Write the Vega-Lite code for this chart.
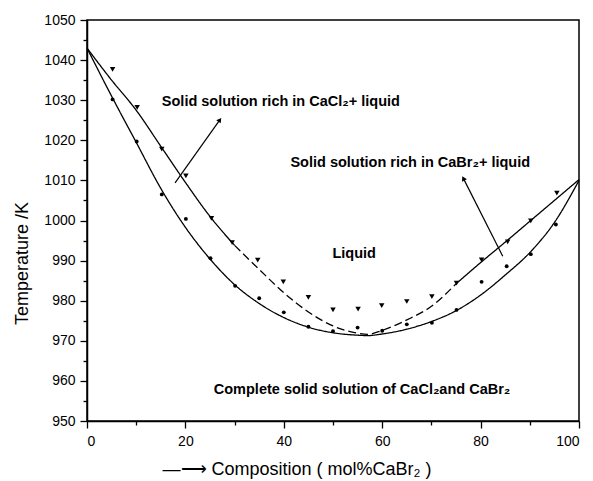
{
  "$schema": "https://vega.github.io/schema/vega-lite/v6.json",
  "width": 492,
  "height": 401,
  "autosize": {"type": "none"},
  "padding": {"left": 87, "top": 20, "right": 14, "bottom": 60},
  "background": "white",
  "config": {
    "view": {"stroke": "black", "strokeWidth": 1.5},
    "font": "Liberation Sans",
    "axis": {
      "labelFont": "Liberation Sans",
      "titleFont": "Liberation Sans",
      "labelColor": "black",
      "titleColor": "black",
      "domainColor": "black",
      "tickColor": "black",
      "grid": false
    }
  },
  "datasets": {
    "curves": [
      {"x": 0, "T": 1043, "segment": "liq1"},
      {"x": 5, "T": 1035, "segment": "liq1"},
      {"x": 10, "T": 1027.5, "segment": "liq1"},
      {"x": 15, "T": 1018.5, "segment": "liq1"},
      {"x": 20, "T": 1009.5, "segment": "liq1"},
      {"x": 25, "T": 1001, "segment": "liq1"},
      {"x": 30, "T": 993.8, "segment": "liq1"},
      {"x": 30, "T": 993.8, "segment": "liq2"},
      {"x": 35, "T": 987.8, "segment": "liq2"},
      {"x": 40, "T": 982, "segment": "liq2"},
      {"x": 45, "T": 977.2, "segment": "liq2"},
      {"x": 50, "T": 973.7, "segment": "liq2"},
      {"x": 55, "T": 971.9, "segment": "liq2"},
      {"x": 57, "T": 971.6, "segment": "liq2"},
      {"x": 60, "T": 972.6, "segment": "liq2"},
      {"x": 65, "T": 975.2, "segment": "liq2"},
      {"x": 70, "T": 978.6, "segment": "liq2"},
      {"x": 75, "T": 984.2, "segment": "liq2"},
      {"x": 75, "T": 984.2, "segment": "liq3"},
      {"x": 80, "T": 989.5, "segment": "liq3"},
      {"x": 85, "T": 994.6, "segment": "liq3"},
      {"x": 90, "T": 999.8, "segment": "liq3"},
      {"x": 95, "T": 1005, "segment": "liq3"},
      {"x": 100, "T": 1010.2, "segment": "liq3"},
      {"x": 0, "T": 1043, "segment": "sol"},
      {"x": 5, "T": 1031, "segment": "sol"},
      {"x": 10, "T": 1019.5, "segment": "sol"},
      {"x": 15, "T": 1008, "segment": "sol"},
      {"x": 20, "T": 998.3, "segment": "sol"},
      {"x": 25, "T": 990.4, "segment": "sol"},
      {"x": 30, "T": 984, "segment": "sol"},
      {"x": 35, "T": 979.3, "segment": "sol"},
      {"x": 40, "T": 975.8, "segment": "sol"},
      {"x": 45, "T": 973.4, "segment": "sol"},
      {"x": 50, "T": 972, "segment": "sol"},
      {"x": 55, "T": 971.4, "segment": "sol"},
      {"x": 57, "T": 971.3, "segment": "sol"},
      {"x": 60, "T": 971.7, "segment": "sol"},
      {"x": 65, "T": 972.9, "segment": "sol"},
      {"x": 70, "T": 974.8, "segment": "sol"},
      {"x": 75, "T": 977.5, "segment": "sol"},
      {"x": 80, "T": 981.4, "segment": "sol"},
      {"x": 85, "T": 986.4, "segment": "sol"},
      {"x": 90, "T": 992, "segment": "sol"},
      {"x": 95, "T": 999.5, "segment": "sol"},
      {"x": 100, "T": 1010, "segment": "sol"}
    ],
    "points": [
      {"x": 5.2, "T": 1037.7, "phase": "liquidus"},
      {"x": 10.2, "T": 1028.2, "phase": "liquidus"},
      {"x": 15.2, "T": 1017.8, "phase": "liquidus"},
      {"x": 20.1, "T": 1011.1, "phase": "liquidus"},
      {"x": 25.3, "T": 1000.5, "phase": "liquidus"},
      {"x": 29.5, "T": 994.5, "phase": "liquidus"},
      {"x": 34.7, "T": 990.1, "phase": "liquidus"},
      {"x": 39.9, "T": 984.7, "phase": "liquidus"},
      {"x": 45, "T": 980.8, "phase": "liquidus"},
      {"x": 50, "T": 977.7, "phase": "liquidus"},
      {"x": 55.1, "T": 977.9, "phase": "liquidus"},
      {"x": 59.9, "T": 978.8, "phase": "liquidus"},
      {"x": 65, "T": 979.8, "phase": "liquidus"},
      {"x": 70.1, "T": 981, "phase": "liquidus"},
      {"x": 75.1, "T": 984.4, "phase": "liquidus"},
      {"x": 80.2, "T": 990.2, "phase": "liquidus"},
      {"x": 85.5, "T": 994.7, "phase": "liquidus"},
      {"x": 90.2, "T": 999.9, "phase": "liquidus"},
      {"x": 95.5, "T": 1006.8, "phase": "liquidus"},
      {"x": 5.2, "T": 1030.2, "phase": "solidus"},
      {"x": 10.1, "T": 1019.7, "phase": "solidus"},
      {"x": 15.2, "T": 1006.5, "phase": "solidus"},
      {"x": 20.1, "T": 1000.4, "phase": "solidus"},
      {"x": 25.1, "T": 990.6, "phase": "solidus"},
      {"x": 30.1, "T": 983.7, "phase": "solidus"},
      {"x": 35, "T": 980.6, "phase": "solidus"},
      {"x": 40, "T": 977.1, "phase": "solidus"},
      {"x": 45, "T": 973.5, "phase": "solidus"},
      {"x": 50, "T": 972.4, "phase": "solidus"},
      {"x": 55, "T": 973.3, "phase": "solidus"},
      {"x": 60, "T": 972.5, "phase": "solidus"},
      {"x": 65, "T": 974.1, "phase": "solidus"},
      {"x": 70.1, "T": 974.5, "phase": "solidus"},
      {"x": 75.1, "T": 977.7, "phase": "solidus"},
      {"x": 80.2, "T": 984.7, "phase": "solidus"},
      {"x": 85.3, "T": 988.6, "phase": "solidus"},
      {"x": 90.2, "T": 991.6, "phase": "solidus"},
      {"x": 95.3, "T": 999, "phase": "solidus"}
    ],
    "arrows": [
      {"id": "a1", "x": 17.9, "T": 1009.4, "x2": 27.0, "T2": 1025.1},
      {"id": "a2", "x": 84.5, "T": 991.1, "x2": 76.5, "T2": 1010.5}
    ],
    "labels": [
      {"x": 39.4, "T": 1029.6, "text": "Solid solution rich in CaCl₂+ liquid"},
      {"x": 65.7, "T": 1014.3, "text": "Solid solution rich in CaBr₂+ liquid"},
      {"x": 54.3, "T": 991.6, "text": "Liquid"},
      {"x": 55.9, "T": 957.7, "text": "Complete solid solution of CaCl₂and CaBr₂"}
    ]
  },
  "resolve": {"axis": {"x": "independent", "y": "independent"}},
  "layer": [
    {
      "data": {"name": "curves"},
      "mark": {"type": "line", "interpolate": "monotone", "color": "black", "strokeWidth": 1.3},
      "encoding": {
        "x": {
          "field": "x", "type": "quantitative",
          "scale": {"domain": [0, 100], "nice": false},
          "axis": {
            "orient": "bottom",
            "values": [0, 20, 40, 60, 80, 100],
            "format": "d",
            "tickSize": 7, "tickWidth": 1.3, "domainWidth": 1.5,
            "labelFontSize": 14, "labelPadding": 6,
            "title": "—⟶ Composition ( mol%CaBr₂ )",
            "titleFontSize": 18, "titleFontWeight": "normal",
            "titleAnchor": "start", "titleAlign": "left",
            "titleX": 75, "titleY": 53, "titleBaseline": "alphabetic"
          }
        },
        "y": {
          "field": "T", "type": "quantitative",
          "scale": {"domain": [950, 1050], "nice": false, "zero": false},
          "axis": {
            "orient": "left",
            "values": [950, 960, 970, 980, 990, 1000, 1010, 1020, 1030, 1040, 1050],
            "format": "d",
            "tickSize": 7, "tickWidth": 1.3, "domainWidth": 1.5,
            "labelFontSize": 14, "labelPadding": 5,
            "title": "Temperature /K",
            "titleFontSize": 18, "titleFontWeight": "normal",
            "titleAngle": -90, "titleAlign": "center",
            "titleX": -60, "titleY": 243, "titleBaseline": "alphabetic"
          }
        },
        "detail": {"field": "segment"},
        "strokeDash": {
          "field": "segment", "type": "nominal",
          "scale": {"domain": ["liq1", "liq2", "liq3", "sol"], "range": [[1, 0], [8, 4], [1, 0], [1, 0]]},
          "legend": null
        }
      }
    },
    {
      "data": {"name": "points"},
      "mark": {"type": "point", "filled": true, "color": "black", "opacity": 1},
      "encoding": {
        "x": {
          "field": "x", "type": "quantitative",
          "axis": {
            "orient": "bottom",
            "values": [10, 30, 50, 70, 90],
            "tickSize": 4, "tickWidth": 1.3, "domain": false, "labels": false, "title": null
          }
        },
        "y": {
          "field": "T", "type": "quantitative",
          "axis": {
            "orient": "left",
            "values": [955, 965, 975, 985, 995, 1005, 1015, 1025, 1035, 1045],
            "tickSize": 4, "tickWidth": 1.3, "domain": false, "labels": false, "title": null
          }
        },
        "shape": {
          "field": "phase", "type": "nominal",
          "scale": {"domain": ["liquidus", "solidus"], "range": ["triangle-down", "circle"]},
          "legend": null
        },
        "size": {
          "field": "phase", "type": "nominal",
          "scale": {"domain": ["liquidus", "solidus"], "range": [30, 15]},
          "legend": null
        }
      }
    },
    {
      "data": {"name": "arrows"},
      "mark": {"type": "rule", "color": "black", "strokeWidth": 1.2},
      "encoding": {
        "x": {"field": "x", "type": "quantitative", "axis": null},
        "y": {"field": "T", "type": "quantitative", "axis": null},
        "x2": {"field": "x2"},
        "y2": {"field": "T2"}
      }
    },
    {
      "data": {"name": "arrows"},
      "transform": [{"filter": "datum.id === 'a1'"}],
      "mark": {"type": "point", "shape": "triangle-up", "filled": true, "color": "black", "opacity": 1, "size": 30, "angle": 35.7},
      "encoding": {
        "x": {"field": "x2", "type": "quantitative", "axis": null},
        "y": {"field": "T2", "type": "quantitative", "axis": null}
      }
    },
    {
      "data": {"name": "arrows"},
      "transform": [{"filter": "datum.id === 'a2'"}],
      "mark": {"type": "point", "shape": "triangle-up", "filled": true, "color": "black", "opacity": 1, "size": 30, "angle": 333},
      "encoding": {
        "x": {"field": "x2", "type": "quantitative", "axis": null},
        "y": {"field": "T2", "type": "quantitative", "axis": null}
      }
    },
    {
      "data": {"name": "labels"},
      "mark": {"type": "text", "font": "Liberation Sans", "fontWeight": "bold", "fontSize": 14.5, "color": "black", "align": "center", "baseline": "middle"},
      "encoding": {
        "x": {"field": "x", "type": "quantitative", "axis": null},
        "y": {"field": "T", "type": "quantitative", "axis": null},
        "text": {"field": "text"}
      }
    }
  ]
}
